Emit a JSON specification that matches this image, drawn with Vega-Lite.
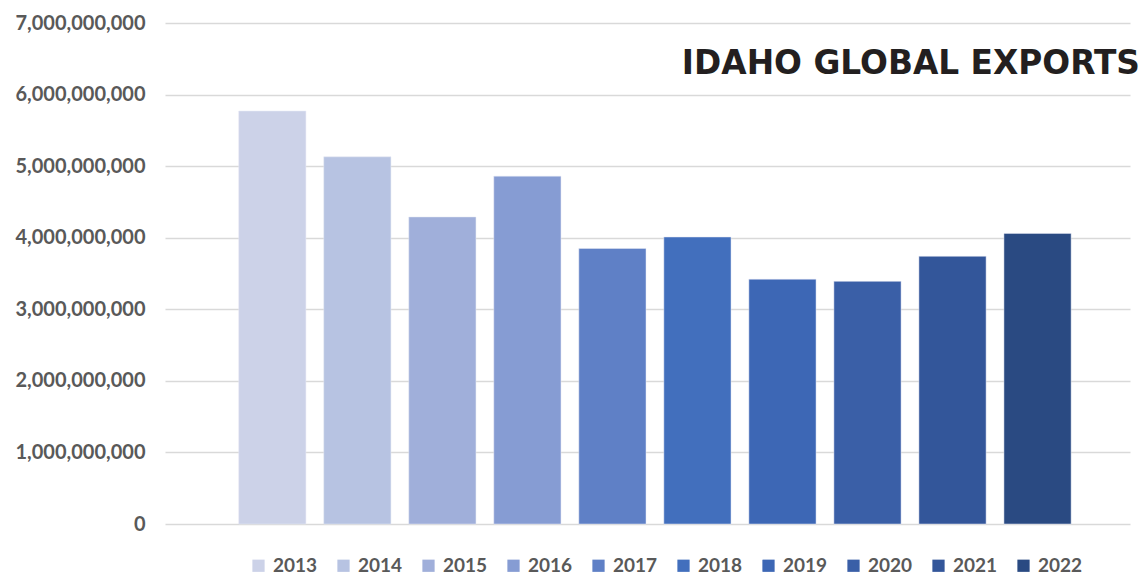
{
  "$schema": "https://vega.github.io/schema/vega-lite/v6.json",
  "width": 965,
  "height": 501,
  "autosize": "none",
  "padding": {"left": 165, "top": 23, "right": 15, "bottom": 52},
  "title": {
    "text": "IDAHO GLOBAL EXPORTS",
    "anchor": "end",
    "orient": "top",
    "offset": -68,
    "dx": 10,
    "font": "DejaVu Sans",
    "fontSize": 32.8,
    "fontWeight": "bold",
    "color": "#231f20"
  },
  "data": {
    "values": [
      {"year": "2013", "exports": 5770000000},
      {"year": "2014", "exports": 5130000000},
      {"year": "2015", "exports": 4290000000},
      {"year": "2016", "exports": 4860000000},
      {"year": "2017", "exports": 3850000000},
      {"year": "2018", "exports": 4010000000},
      {"year": "2019", "exports": 3420000000},
      {"year": "2020", "exports": 3390000000},
      {"year": "2021", "exports": 3740000000},
      {"year": "2022", "exports": 4060000000}
    ]
  },
  "mark": {"type": "bar", "stroke": "#e6e9f4", "strokeWidth": 0.5},
  "encoding": {
    "x": {
      "field": "year",
      "type": "nominal",
      "scale": {"paddingInner": 0.21, "paddingOuter": 0.78, "align": 0.556},
      "axis": null
    },
    "y": {
      "field": "exports",
      "type": "quantitative",
      "scale": {"domain": [0, 7000000000], "nice": false},
      "axis": {
        "title": null,
        "values": [0, 1000000000, 2000000000, 3000000000, 4000000000, 5000000000, 6000000000, 7000000000],
        "format": ",d",
        "domain": false,
        "ticks": false,
        "labelPadding": 20,
        "labelFont": "Lato",
        "labelFontSize": 20,
        "labelFontWeight": "bold",
        "labelColor": "#595959",
        "gridColor": "#d9d9d9",
        "gridWidth": 1.5
      }
    },
    "color": {
      "field": "year",
      "type": "nominal",
      "scale": {
        "range": ["#ccd2e8", "#b7c3e2", "#a0afda", "#869cd3", "#5f80c6", "#426fbd", "#3d67b5", "#3a5fa7", "#33569a", "#2a4a82"]
      },
      "legend": {
        "title": null,
        "orient": "none",
        "direction": "horizontal",
        "legendX": 84,
        "legendY": 533,
        "columns": 10,
        "symbolType": "square",
        "symbolSize": 150,
        "symbolStrokeWidth": 0,
        "labelFont": "Lato",
        "labelFontSize": 19,
        "labelFontWeight": "bold",
        "labelColor": "#595959",
        "labelOffset": 5,
        "columnPadding": 16
      }
    }
  },
  "config": {"view": {"stroke": null}, "background": "white"}
}
